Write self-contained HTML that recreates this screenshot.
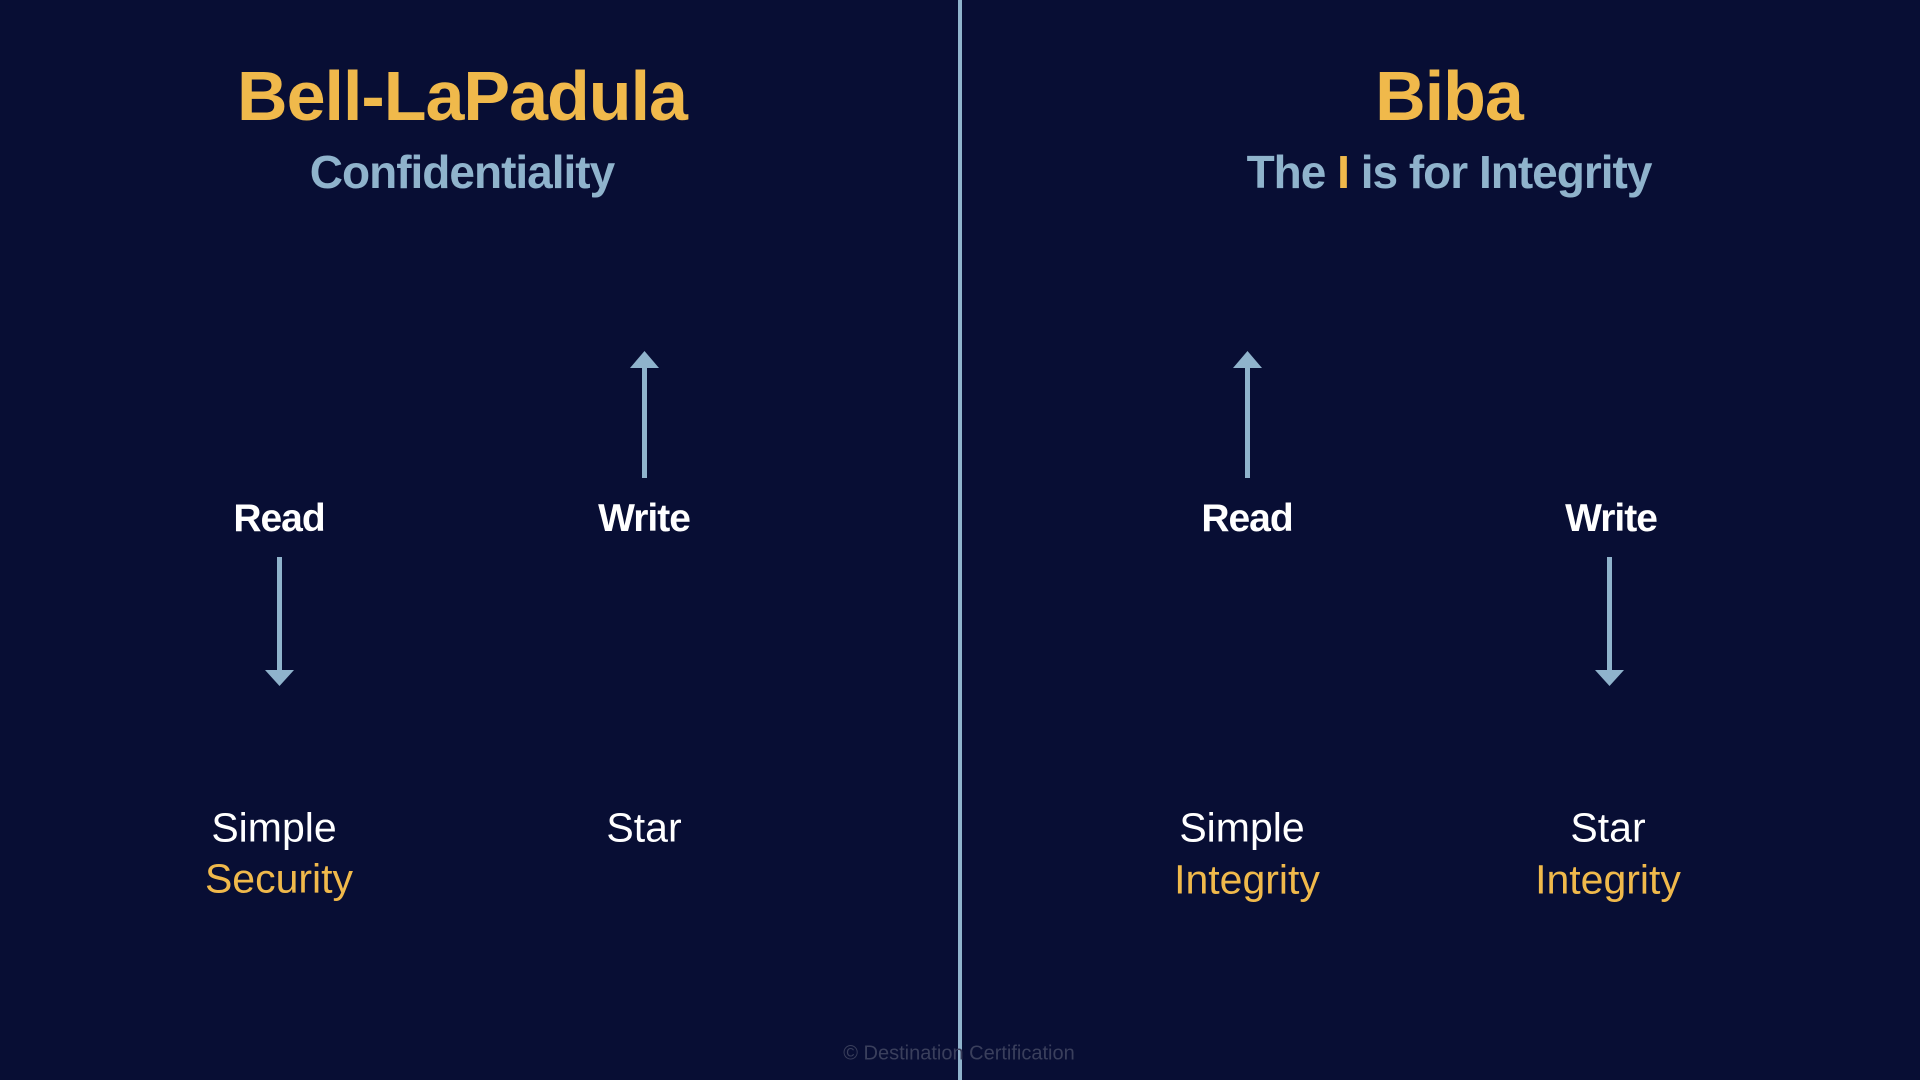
<!DOCTYPE html>
<html><head><meta charset="utf-8"><style>
html,body{margin:0;padding:0;}
body{width:1920px;height:1080px;background:#080e34;position:relative;overflow:hidden;font-family:"Liberation Sans",sans-serif;}
.t{position:absolute;transform:translate(-50%,-50%);white-space:nowrap;}
.title{font-size:70px;font-weight:bold;color:#f0b94b;letter-spacing:-1px;}
.sub{font-size:46px;font-weight:bold;color:#8fb3cc;letter-spacing:-1px;}
.lab{font-size:39px;font-weight:bold;color:#fff;letter-spacing:-1px;}
.nm{font-size:41px;color:#fff;}
.or{font-size:41px;color:#f0b94b;}
.div{position:absolute;left:958px;top:0;width:4px;height:1080px;background:#8fb3cc;}
.foot{font-size:20px;color:#3a3f5c;}
</style></head><body>
<div class="div"></div>
<div class="t title" style="left:462px;top:96px">Bell-LaPadula</div>
<div class="t sub" style="left:462px;top:172px">Confidentiality</div>
<div class="t title" style="left:1449px;top:96px">Biba</div>
<div class="t sub" style="left:1449px;top:172px">The <span style="color:#f0b94b">I</span> is for Integrity</div>

<div class="t lab" style="left:279px;top:519px">Read</div>
<div class="t lab" style="left:644px;top:519px">Write</div>
<div class="t lab" style="left:1247px;top:519px">Read</div>
<div class="t lab" style="left:1611px;top:519px">Write</div>

<svg width="1920" height="1080" style="position:absolute;left:0;top:0">
<g fill="#8fb3cc" stroke="none">
<rect x="277" y="557" width="5" height="115"/><polygon points="265,670 294,670 279.5,686"/>
<rect x="642" y="366" width="5" height="112"/><polygon points="630,368 659,368 644.5,351"/>
<rect x="1245" y="366" width="5" height="112"/><polygon points="1233,368 1262,368 1247.5,351"/>
<rect x="1607" y="557" width="5" height="115"/><polygon points="1595,670 1624,670 1609.5,686"/>
</g></svg>

<div class="t nm" style="left:274px;top:828px">Simple</div>
<div class="t or" style="left:279px;top:879px">Security</div>
<div class="t nm" style="left:644px;top:828px">Star</div>
<div class="t nm" style="left:1242px;top:828px">Simple</div>
<div class="t or" style="left:1247px;top:880px">Integrity</div>
<div class="t nm" style="left:1608px;top:828px">Star</div>
<div class="t or" style="left:1608px;top:880px">Integrity</div>

<div class="t foot" style="left:959px;top:1054px">© Destination Certification</div>
</body></html>
